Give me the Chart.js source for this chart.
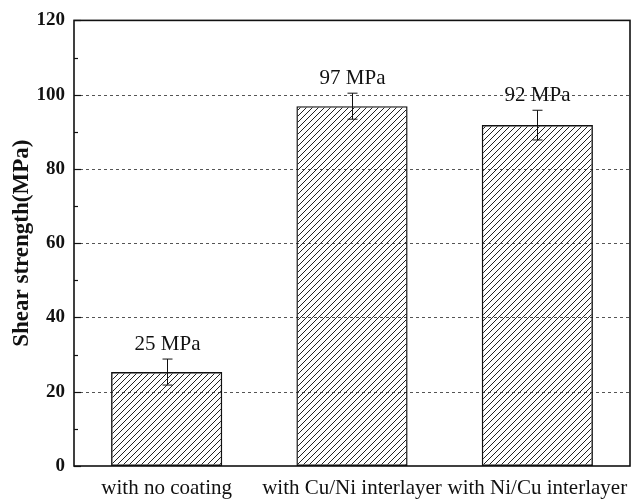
<!DOCTYPE html>
<html>
<head>
<meta charset="utf-8">
<script src="https://cdn.jsdelivr.net/npm/chart.js@4.4.0/dist/chart.umd.min.js"></script>
<style>
  html, body { margin: 0; background: #fff; }
  #wrap { width: 644px; height: 500px; }
</style>
</head>
<body>
<div id="wrap"><canvas id="chart"></canvas></div>
<script>
// data
const categories = ['with no coating', 'with Cu/Ni interlayer', 'with Ni/Cu interlayer'];
const strength = [25.3, 96.9, 91.8];
const errors = [3.5, 3.5, 4.0];
const valueLabels = ['25 MPa', '97 MPa', '92 MPa'];
const yMajorTicks = [0, 20, 40, 60, 80, 100, 120];
const yMinorTicks = [10, 30, 50, 70, 90, 110];

const serif = "'Liberation Serif', 'DejaVu Serif', serif";

// diagonal hatch used as bar fill
function makeHatch(ctx) {
  const s = 6;
  const c = document.createElement('canvas');
  c.width = s; c.height = s;
  const g = c.getContext('2d');
  g.strokeStyle = '#222';
  g.lineWidth = 1;
  g.beginPath();
  g.moveTo(0, s); g.lineTo(s, 0);
  g.moveTo(-1, 1); g.lineTo(1, -1);
  g.moveTo(s - 1, s + 1); g.lineTo(s + 1, s - 1);
  g.stroke();
  return ctx.createPattern(c, 'repeat');
}

const decor = {
  id: 'decor',
  beforeDatasetsDraw(chart) {
    const { ctx, chartArea: a, scales: { y } } = chart;
    ctx.save();
    ctx.strokeStyle = '#555';
    ctx.lineWidth = 1;
    ctx.setLineDash([3, 3]);
    yMajorTicks.forEach(v => {
      if (v === yMajorTicks[0] || v === yMajorTicks[yMajorTicks.length - 1]) return;
      const py = Math.round(y.getPixelForValue(v)) + 0.5;
      ctx.beginPath();
      ctx.moveTo(a.left, py);
      ctx.lineTo(a.right, py);
      ctx.stroke();
    });
    ctx.restore();
  },
  afterDatasetsDraw(chart) {
    const { ctx, chartArea: a, scales: { x, y } } = chart;
    ctx.save();
    ctx.strokeStyle = '#111';

    // frame
    ctx.lineWidth = 1.6;
    ctx.strokeRect(a.left, a.top, a.right - a.left, a.bottom - a.top);

    // inward ticks on the y axis
    ctx.lineWidth = 1.2;
    yMajorTicks.forEach(v => {
      const py = Math.round(y.getPixelForValue(v)) + 0.5;
      ctx.beginPath(); ctx.moveTo(a.left, py); ctx.lineTo(a.left + 7, py); ctx.stroke();
    });
    yMinorTicks.forEach(v => {
      const py = Math.round(y.getPixelForValue(v)) + 0.5;
      ctx.beginPath(); ctx.moveTo(a.left, py); ctx.lineTo(a.left + 4, py); ctx.stroke();
    });

    // error bars and value labels
    ctx.lineWidth = 1;
    ctx.fillStyle = '#111';
    ctx.font = '21px ' + serif;
    ctx.textAlign = 'center';
    ctx.textBaseline = 'middle';
    strength.forEach((v, i) => {
      const px = Math.round(x.getPixelForValue(i)) + 0.5;
      const top = y.getPixelForValue(v + errors[i]);
      const bot = y.getPixelForValue(v - errors[i]);
      ctx.beginPath();
      ctx.moveTo(px, top); ctx.lineTo(px, bot);
      ctx.moveTo(px - 5, top); ctx.lineTo(px + 5, top);
      ctx.moveTo(px - 5, bot); ctx.lineTo(px + 5, bot);
      ctx.stroke();
      ctx.fillText(valueLabels[i], px, top - 15);
    });
    ctx.restore();
  }
};

const ctx = document.getElementById('chart').getContext('2d');
new Chart(ctx, {
  type: 'bar',
  data: {
    labels: categories,
    datasets: [{
      data: strength,
      backgroundColor: makeHatch(ctx),
      borderColor: '#111',
      borderWidth: 1.4,
      borderSkipped: false,
      barPercentage: 0.6,
      categoryPercentage: 1.0
    }]
  },
  options: {
    responsive: true,
    maintainAspectRatio: false,
    animation: false,
    layout: { padding: { left: 0, right: 14, top: 17, bottom: 0 } },
    plugins: { legend: { display: false }, tooltip: { enabled: false } },
    scales: {
      x: {
        grid: { display: false, drawTicks: false },
        border: { display: false },
        ticks: { color: '#111', padding: 10, font: { family: serif, size: 21 }, maxRotation: 0, autoSkip: false },
        afterFit(scale) { scale.height = 34; }
      },
      y: {
        min: 0,
        max: 120,
        grid: { display: false, drawTicks: false },
        border: { display: false },
        ticks: { stepSize: 20, color: '#111', padding: 9, font: { family: serif, size: 19, weight: 'bold' } },
        title: {
          display: true,
          text: 'Shear strength(MPa)',
          color: '#111',
          padding: { top: 8, bottom: 0 },
          font: { family: serif, size: 23, weight: 'bold' }
        },
        afterFit(scale) { scale.width = 74; }
      }
    }
  },
  plugins: [decor]
});
</script>
</body>
</html>
